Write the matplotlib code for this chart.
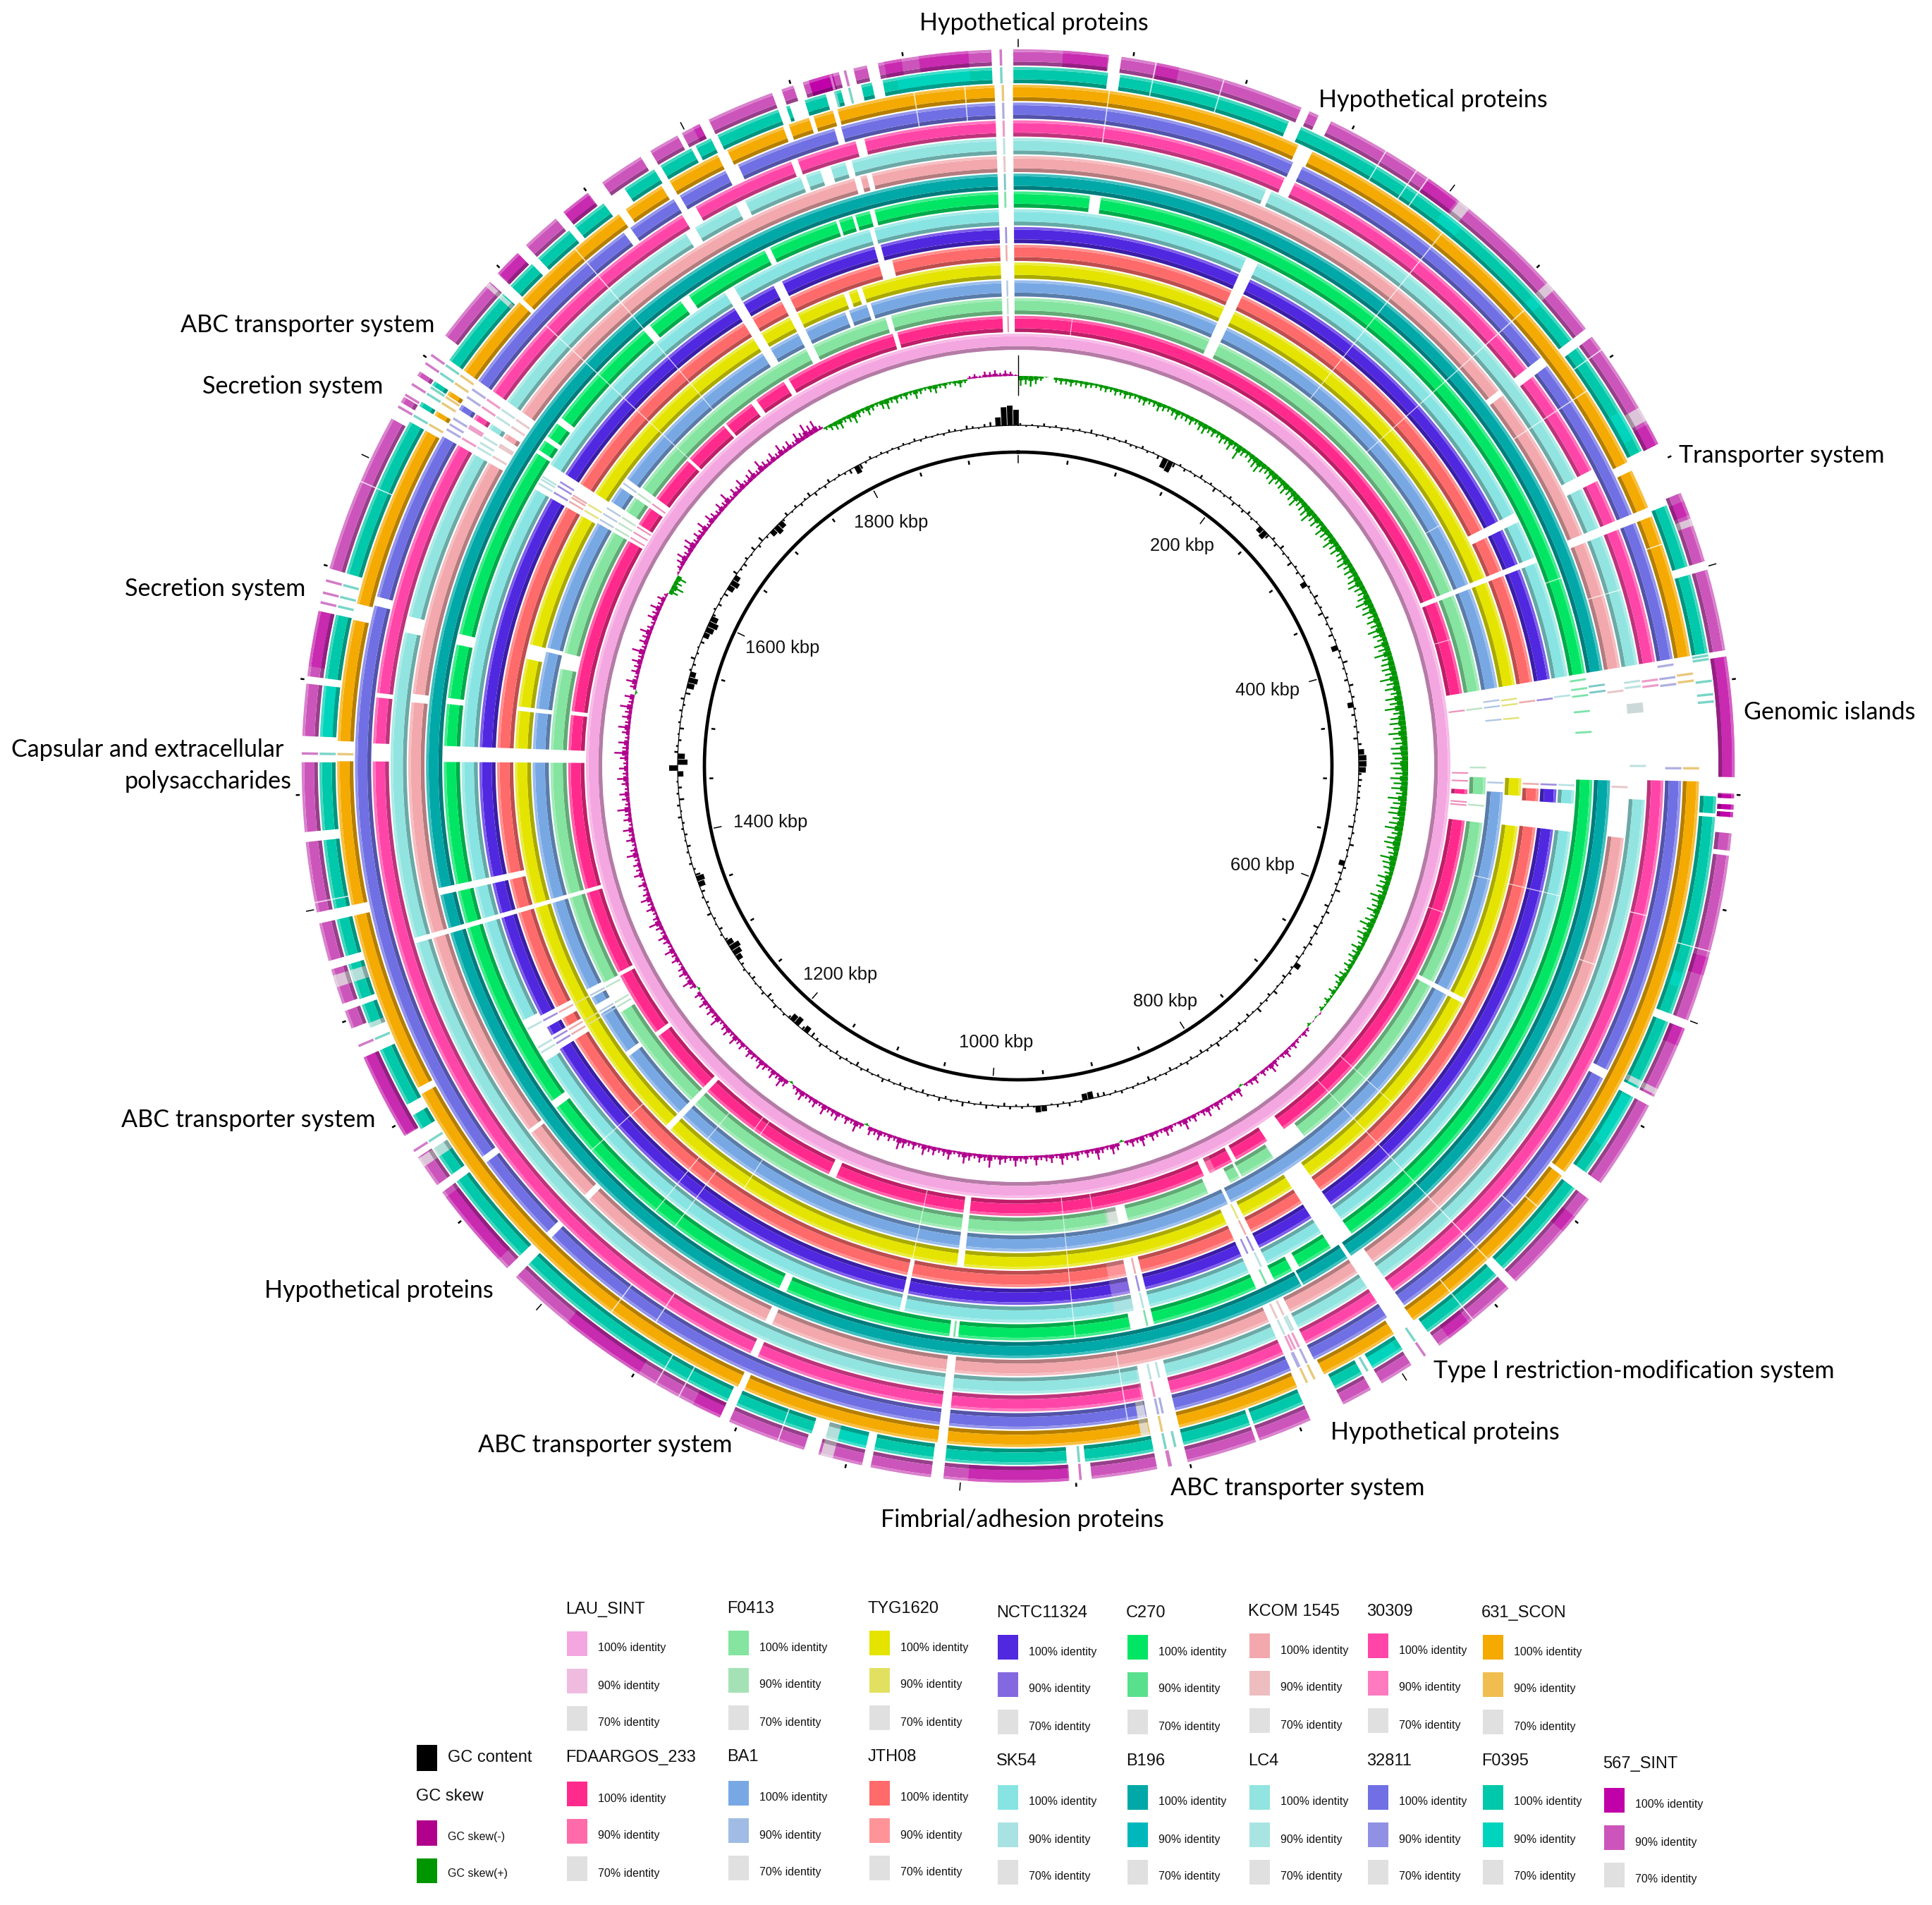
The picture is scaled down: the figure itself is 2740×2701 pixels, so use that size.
import numpy as np
import matplotlib
matplotlib.use("Agg")
import matplotlib.pyplot as plt
from matplotlib.patches import Rectangle

W, H = 2740, 2701
CX, CY = 1444, 1086
R_MAX = 1060
GENOME_KBP = 1950

ring_names = ['LAU_SINT', 'FDAARGOS_233', 'F0413', 'BA1', 'TYG1620', 'JTH08', 'NCTC11324', 'SK54', 'C270',
              'B196', 'KCOM 1545', 'LC4', '30309', '32811', '631_SCON', 'F0395', '567_SINT']
color_100 = ['#F4A6E0', '#FF2A8C', '#84E4A0', '#78A8E4', '#E4E400', '#FF6A6A', '#5028E0', '#88E4E2', '#00E664',
             '#00A8A8', '#F2A8AC', '#92E4E0', '#FF46A8', '#7070E4', '#F4AA00', '#00C8AA', '#C000A8']
color_90 = ['#EFBCE0', '#FF6AA8', '#A4E2B6', '#A0BCE4', '#E2E060', '#FF9498', '#8468E0', '#A8E2E2', '#58E08C',
            '#00B8BC', '#EDBDC0', '#A8E4E2', '#FF7ABE', '#9090E4', '#F0BE50', '#00D4BC', '#CC55BB']
grey_70 = '#E0E0E0'

# gaps in the blast rings, degrees clockwise from the top: start, end, first ring, last ring
shared_gaps = [(358.0, 359.55, 1, 16), (24.2, 25.5, 2, 7), (63, 64, 5, 7), (68, 68.6, 1, 7), (67.7, 68.5, 10, 14),
               (253.6, 254.1, 1, 11), (270.4, 272, 1, 8), (186.2, 187, 1, 4), (223.7, 224.4, 1, 4),
               (144.5, 147, 4, 8), (153.4, 155.5, 4, 7), (166.3, 168, 5, 7), (191.8, 192.3, 5, 7),
               (257.4, 258.1, 5, 9), (299.8, 302.8, 4, 7), (299.8, 302.5, 10, 13), (303, 305.5, 10, 13),
               (144.4, 146.2, 10, 13), (153.5, 155.7, 10, 13), (166.3, 168.8, 11, 14), (186, 186.8, 10, 14),
               (117.5, 118.1, 2, 4), (333, 334, 2, 6), (328.2, 329.3, 3, 7)]

gaps_lau = []
gaps_fda = [(80.7, 97.0), (143.8, 146.4), (151, 151.6), (154.8, 155.6), (203.9, 204.9), (233.1, 233.7),
            (242.2, 242.7), (276.5, 277), (300, 306.5), (312.7, 313.1), (319.1, 319.5), (323.6, 324.4),
            (328.6, 329.3), (343.8, 344.4)]
gaps_f0413 = [(80.7, 97.0), (142.3, 146.9), (151.4, 151.7), (153, 156), (166.4, 167.6), (238.2, 242.4), (282, 284),
              (300, 306.5), (343.5, 344.2)]
gaps_ba1 = [(80.7, 93.1), (154, 154.4), (233.3, 233.9), (239.3, 242.6), (276.3, 276.8), (283.6, 284.1),
            (300, 306.3), (339.1, 339.6), (341.8, 342.3)]
gaps_tyg = [(80.7, 96.9), (276.3, 276.8), (282.3, 284), (339.7, 340.3), (341.3, 341.9)]
gaps_jth = [(80.7, 96.8), (238.3, 242.4), (344.5, 346)]
gaps_nctc = [(80.7, 96.8), (238.3, 242.4), (344.5, 345.2)]
gaps_sk54 = [(80.7, 96.8), (238, 242.8), (344.5, 345)]
gaps_c270 = [(7.2, 8.3), (80.7, 91.4), (150.7, 151.5), (153.5, 155.5), (166.3, 168.7), (186, 186.9), (203.8, 204.6),
             (233.5, 234.3), (276.2, 276.8), (282.2, 283.3), (303, 303.4), (304.5, 305), (306.6, 307.3),
             (319.3, 320.1), (324, 325), (333.8, 334.4), (341.5, 341.8), (343.2, 343.5), (345, 345.5)]
gaps_b196 = [(80.7, 91.4), (145.8, 146.2), (151.2, 151.4)]
gaps_kcom = [(52, 52.6), (80.7, 96.8), (203.8, 204.5), (224.7, 225.3), (233, 233.4), (276, 276.8), (344.4, 345),
             (345.6, 346.1)]
gaps_lc4 = [(23.3, 23.8), (62.7, 63.8), (80.7, 93.1), (282.3, 283.8), (328, 329), (333.3, 334.2), (339.7, 340.2),
            (341.6, 342.6), (344, 344.6)]
gaps_30309 = [(24.4, 25.4), (52, 52.9), (62.7, 63.8), (80.7, 91.3), (203.8, 204.5), (270.4, 272), (276.1, 276.5),
              (328.6, 330), (339.4, 340), (345.4, 346.2)]
gaps_32811 = [(24.5, 25.4), (52, 52.9), (80.7, 91.3), (117.3, 118.1), (224.7, 225.3), (233.3, 233.9), (284, 284.8),
              (323.5, 324.2), (328.7, 329.3), (333.8, 335), (343.9, 344.5)]
gaps_631 = [(24.3, 25.6), (63.5, 64.3), (80.7, 91.3), (126.6, 127), (144.5, 146.5), (153.3, 155.8), (203.7, 204.3),
            (241.2, 241.8), (257.3, 258.2), (270.4, 272.1), (282.4, 283.8), (299.5, 301), (301.4, 303),
            (303.4, 305.5), (312.9, 313.3), (324.1, 324.8), (328.4, 329.2), (333.8, 334.7), (339.8, 340.3),
            (342.1, 342.5), (344.2, 344.6)]
gaps_f0395 = [(357.85, 359.6), (7.4, 8.4), (22.8, 23.9), (52.4, 53.2), (63.2, 68.1), (73.4, 74.1), (80.7, 94.2),
              (110.8, 111.5), (117.5, 118.3), (125.6, 127.2), (136, 136.8), (144.1, 146.6), (149.5, 150.5),
              (153, 155.9), (160.3, 160.6), (166.3, 168.8), (174.5, 176), (186, 187), (191.9, 192.6), (196, 197.2),
              (203.8, 204.6), (224.5, 225.5), (233.5, 234.2), (236.8, 238.7), (240, 241), (246, 248), (250, 250.5),
              (253.5, 254.2), (257.3, 258.2), (263.9, 264.7), (270.3, 272.4), (276.6, 277.2), (282.5, 286),
              (299.5, 301), (301.4, 303), (303.4, 305.5), (312.5, 313.4), (315.9, 316.6), (320, 320.6),
              (323.6, 325.7), (328.6, 329.2), (332.1, 332.5), (333.9, 334.5), (339.9, 340.6), (340.9, 342.2),
              (344, 344.8), (345.3, 347), (347.9, 348.8)]
gaps_567 = [(357.85, 359.6), (7.3, 8.3), (23.3, 24), (24.8, 25.9), (52.4, 53.2), (63.3, 67.6), (73.4, 74.1),
            (80.7, 81.2), (90.9, 92.2), (92.6, 93.1), (93.5, 93.7), (94.1, 95.4), (96.8, 97.2), (110.8, 111.5),
            (117.5, 118.3), (125.6, 127.2), (136, 136.8), (144, 146.7), (149.5, 150.5), (153, 155.9), (160.3, 160.6),
            (166.3, 168.8), (174.1, 175.9), (186, 187), (191.9, 192.6), (196.2, 197.4), (203.8, 204.6),
            (224.5, 225.5), (233.5, 234.2), (236.9, 238.9), (246, 248.5), (250, 250.6), (253.5, 254.2),
            (257.3, 258.2), (263.9, 264.7), (270.3, 272.4), (276.6, 277.2), (282.5, 286), (299, 300.5), (301, 303),
            (303.4, 306.9), (312.5, 313.4), (315.7, 316.6), (319.8, 320.6), (323.1, 324.5), (328.2, 329.1),
            (331.6, 332), (333.6, 334.4), (339.9, 340.7), (341.7, 342.5), (345.5, 346.7), (347.8, 348.7)]
ring_gaps = [gaps_lau, gaps_fda, gaps_f0413, gaps_ba1, gaps_tyg, gaps_jth, gaps_nctc, gaps_sk54, gaps_c270, gaps_b196,
             gaps_kcom, gaps_lc4, gaps_30309, gaps_32811, gaps_631, gaps_f0395, gaps_567]

# short hits left inside the gaps: start, end, ring
gap_blocks = [(93, 93.6, 1), (91.4, 93.5, 2), (91.4, 93.4, 4), (92.5, 93.9, 5), (92.5, 93.9, 6), (92.5, 93.9, 7),
              (92.5, 93.9, 15), (92.3, 92.6, 16), (93.1, 93.5, 16), (93.7, 94.1, 16), (302.5, 305, 1), (303, 305, 2),
              (303, 305, 3), (240, 241, 5), (240, 241, 6), (240.5, 241.5, 3), (238.7, 240, 15), (342.5, 343.2, 15),
              (343, 345, 16)]
# 90% identity stretches: start, end, first ring, last ring
pale_bands = [(95.5, 96.8, 1, 2), (95.5, 96.5, 4, 7), (95.5, 96.5, 10, 10), (95.4, 96.8, 16, 16), (118.5, 123, 15, 15),
              (107.3, 108.5, 15, 15), (147, 150, 15, 15), (192.6, 195, 15, 15), (272.4, 276.6, 15, 15),
              (37.5, 39.5, 15, 15), (47.6, 48.6, 15, 15), (59.5, 62, 15, 15), (350, 356, 15, 15),
              (168, 170, 5, 7), (167.6, 169.1, 2, 2), (154, 154.8, 1, 1), (168, 169, 11, 14)]
grey_bands = [(38, 39, 16, 16), (47.6, 48.4, 16, 16), (60, 61.2, 16, 16), (69.8, 70.4, 16, 16), (116.8, 117.3, 15, 16),
              (195, 196, 15, 16), (248, 248.4, 15, 16), (312, 312.4, 15, 16), (236, 236.8, 15, 16), (252, 253, 15, 16),
              (168.9, 169.6, 13, 14), (167.6, 168.8, 2, 2), (84.2, 85.1, 11, 11)]
# 100% stretches of the mostly paler outermost ring
dark_567 = [(3.6, 7.2), (11.2, 13), (35, 37.8), (61.5, 63.3), (68.3, 69.5), (81.2, 90.9), (105.5, 107), (111.5, 113),
            (129, 130.5), (141, 143), (176, 184), (204.6, 207), (212, 219), (226.5, 233), (239, 246), (278, 282.5),
            (313.5, 315.7), (320.6, 323), (333, 333.6), (349.2, 350.6), (352, 356)]
# hairline breaks: angle, first ring, last ring
thin_lines = [(38.5, 3, 14), (48, 3, 14), (56.6, 10, 14), (73.7, 1, 1), (73.7, 10, 11), (60.3, 3, 3), (70.9, 8, 8),
              (71, 14, 14), (103.5, 3, 3), (103.5, 5, 7), (103.4, 12, 12), (109, 1, 1), (109, 10, 10), (105, 15, 16),
              (132, 1, 4), (136.4, 1, 14), (130.3, 14, 14), (131.6, 13, 13), (140.6, 14, 16), (170.5, 1, 1),
              (174.3, 1, 8), (170.5, 10, 13), (192.1, 1, 4), (213, 3, 4), (219.8, 2, 3), (215, 1, 1), (216, 1, 1),
              (219.2, 5, 8), (216.7, 5, 8), (228, 5, 8), (216.7, 13, 14), (213.1, 12, 13), (210.4, 15, 16),
              (208.3, 15, 16), (11.1, 15, 16), (16.7, 15, 16), (30.9, 15, 16), (33.8, 15, 16), (34.9, 15, 16),
              (54.5, 15, 16), (6.9, 1, 1), (7.7, 12, 14), (319.4, 3, 14), (313, 2, 12), (355.5, 13, 14), (351.2, 13, 14),
              (259, 15, 16), (199.6, 15, 16), (293.4, 15, 16)]
# faint matches across the genomic island: angle, ring
slivers = [(82.9, 1), (82.9, 2), (82.9, 3), (82.2, 3), (84.5, 3), (82.9, 4), (82.3, 4), (84.5, 4), (82.8, 5), (82.8, 6),
           (82.7, 7), (82.9, 8), (84.5, 8), (86.6, 8), (81.3, 8), (82.2, 8), (82.7, 9), (82.1, 9), (82.9, 10),
           (82.7, 11), (82.2, 11), (82.8, 12), (82.3, 12), (82.9, 13), (82.3, 13), (81.2, 13), (82.8, 14), (82.2, 14),
           (83, 15), (84.1, 15), (84.7, 15), (81.2, 15), (80.9, 15), (90.2, 2), (90.2, 13), (90.2, 14), (90, 11),
           (94.6, 1), (95, 1), (94.9, 2), (91.9, 1), (90.9, 1), (92, 5), (92, 6), (92, 10), (92, 7), (92, 3),
           (358.7, 1), (358.7, 2), (358.7, 3), (358.7, 5), (358.7, 6), (358.7, 8), (358.7, 9), (358.7, 10), (358.7, 11),
           (358.7, 12), (358.7, 13), (358.7, 14), (358.6, 15), (358.6, 16), (301, 5), (301.8, 6), (301, 7), (301.8, 10),
           (301, 11), (301.8, 12), (301, 13), (302.8, 14), (302.8, 15), (301.2, 16), (186.4, 8), (150, 15), (155, 13),
           (154.6, 12), (154, 11), (154.4, 8), (154.8, 6), (167, 11), (167.4, 13), (167, 15), (167.7, 16)]
# groups of faint matches inside the wider strips: angle, first ring, last ring
strip_slivers = [(300.5, 1, 7), (301.3, 1, 7), (302.1, 1, 3), (305.6, 1, 3), (300.5, 10, 13), (301.6, 10, 13),
                 (303.8, 10, 13), (304.6, 10, 13), (300.1, 14, 16), (302.2, 14, 16), (304.2, 14, 16), (305, 14, 16),
                 (239, 2, 7), (239.6, 2, 7), (241.8, 2, 7), (284, 15, 16), (285, 15, 16), (283.2, 15, 16),
                 (154.2, 10, 14), (154.9, 10, 14), (154.1, 4, 7), (167, 5, 8), (167.8, 11, 16), (247, 15, 16),
                 (237.5, 15, 16), (145.4, 15, 16), (175, 15, 16), (271, 14, 16), (344.8, 15, 16), (346, 15, 16)]

# GC skew, one value per 0.75 degree: positive outward (-), negative inward (+)
gc_skew = [
    -14, -12, -15, -11, -6, -1, 0, -7, -9, -8, -10, -7, -8, -9, -7, -6, -8, -9, -7, -10,
    -8, -11, -9, -7, -10, -12, -8, -9, -13, -10, -8, -11, -14, -9, -10, -12, -8, -13, -15, -10,
    -12, -9, -14, -11, -16, -10, -22, -12, -10, -13, -16, -19, -14, -11, -15, -18, -12, -14, -17, -13,
    -16, -20, -13, -15, -18, -22, -14, -17, -12, -19, -16, -14, -21, -15, -18, -13, -16, -20, -14, -17,
    -15, -19, -22, -16, -14, -18, -24, -17, -20, -15, -19, -16, -23, -18, -14, -21, -17, -25, -16, -19,
    -20, -17, -26, -18, -22, -15, -24, -19, -27, -16, -21, -23, -18, -26, -20, -17, -24, -22, -19, -25,
    -21, -18, -25, -20, -23, -16, -27, -19, -22, -24, -17, -21, -26, -15, -20, -23, -18, -14, -24, -19,
    -16, -12, -20, -15, -18, -13, -22, -17, -14, -19, -11, -16, -21, -13, -18, -15, -10, -17, -12, -14,
    -10, -13, -8, -12, -15, -9, -6, -11, -4, -8, -3, -6, 2, -2, 1, -4, 5, 8, 3, 6,
    9, 5, 12, 7, 4, 10, 14, 6, 9, 3, 11, 8, 5, -3, 13, 7, 10, 4, 8, 12,
    6, 14, 9, 5, 11, 7, 16, 8, 4, 10, 13, 6, 9, 12, 5, 15, 8, 11, 7, -3,
    10, 14, 6, 9, 17, 7, 11, 5, 13, 8, 10, 16, 6, 12, 9, 7, 14, 5, 11, 8,
    15, 7, 10, 13, 6, 18, 9, 12, 7, 11, 16, 8, 5, 14, 10, 7, 12, 9, 15, 6,
    11, 8, 13, 17, 7, 10, 6, 14, 9, 12, -3, 8, 16, 7, 11, 5, 13, 10, 8, 15,
    6, 12, 9, 7, 14, 10, 5, -3, 11, 16, 8, 13, 6, 10, 14, 7, 9, 12, 5, 11,
    8, 15, 7, 13, 10, 6, 17, 9, 12, 8, 14, 6, 11, -3, 9, 16, 7, 13, 10, 5,
    12, 8, 15, 6, 10, 14, 7, 11, 18, 9, 6, 13, 8, 16, 10, 7, 12, 5, 14, 9,
    11, 7, 17, 10, 6, 13, 8, 15, 5, 12, 9, 19, 7, 11, 14, 6, 10, 16, 8, 13,
    7, 12, 20, 9, 15, 6, 11, 17, 8, 13, 10, 18, 7, 14, -3, 9, 16, 6, 12, 10,
    15, 8, 19, 7, 13, 11, 17, 9, 6, 14, 10, 16, 8, 12, 5, -13, -18, -12, -15, 3,
    7, 12, 16, 9, 14, 18, 8, 13, 10, 17, 6, 15, 11, 8, 14, 9, 18, 7, 13, 10,
    16, 8, 12, 15, 7, 18, 11, 9, 14, 8, 17, 10, 13, 7, 16, 12, 21, 15, 18, 6,
    -5, -9, -12, -14, -8, -11, -16, -10, -7, -13, -9, -6, -12, -15, -8, -11, -7, -10, -6, -13,
    -8, -5, -9, -12, -6, -8, -4, -7, -10, -5, 4, 6, 3, 8, 7, 9, 5, 8, 6, 2,
]

# GC content, one value per degree, around the baseline
gc_content = [
    3, -2, 2, -3, 4, -2, 3, -4, 2, -3, 3, -2, 5, -3, 2, -4, 3, -2, 4, -3,
    -3, 4, -3, 2, -5, -14, -16, -6, 3, -4, 2, -3, 5, -2, 3, -6, 2, -3, 4, -5,
    3, -4, 5, -3, 2, -8, -11, -6, 4, -5, 6, -3, 2, -7, 3, -4, 5, -8, 3, -2,
    6, -4, 3, -7, 5, -3, 4, -6, 2, -9, 3, -4, 7, -3, 2, -5, 6, -3, 4, -8,
    3, -5, 2, -4, 3, -6, 5, 8, 11, 11, 10, 4, 5, 4, 3, 4, 2, 3, -3, 2,
    -7, 3, -4, 6, -3, 2, -8, 4, -5, 3, -4, 7, -3, 2, -6, 5, -3, 3, -7, 4,
    -3, 5, -4, 2, -6, 8, -3, 4, -5, 3, -2, 6, -4, 3, -3, 7, -2, -5, 3, -4,
    5, -3, 2, -4, 6, -3, 3, -5, 2, -4, 4, -3, 2, -5, 3, -2, 4, -6, 2, -3,
    3, -2, 4, -3, 2, -5, -6, -10, -9, 3, -2, 5, -3, 4, -2, 8, 9, 2, -4, 3,
    -3, 4, -5, 3, -2, 5, -4, 2, -3, 6, -2, 3, -4, 5, -2, 3, -5, 2, -3, 4,
    -4, 2, -3, 5, -3, 2, -4, 3, -6, 2, -3, 4, -5, 2, -3, 5, -4, -7, -9, -5,
    -12, -10, -4, 3, -2, 5, -3, -7, 4, -3, 2, -5, -3, 3, -4, -8, -12, -15, -9, -4,
    3, -5, 2, -3, 6, -2, -4, 3, -5, -9, -11, -7, -3, 4, -2, 3, -5, 2, -4, 3,
    -3, 5, -2, 4, -7, 3, -5, 2, -8, 12, -14, -10, 5, 3, -4, 2, -6, 3, -2, 4,
    -3, 5, -7, -10, -13, -8, 3, -4, 6, -3, 2, -5, -8, -11, -14, -10, -4, 3, -5, 2,
    -6, -9, -12, -8, 6, -3, -5, 4, -2, 6, -4, 7, -3, -8, -12, -9, -3, 5, -2, 4,
    -4, 3, 6, -5, 2, -4, 5, -2, 3, -3, -6, -11, -7, -3, 4, -2, 3, -3, 2, -4,
    3, -2, 4, -3, 3, -2, 2, -3, 4, 3, -2, 5, 3, -2, 4, 6, 12, 26, 28, 22,
]

kbp_labels = ['200 kbp', '400 kbp', '600 kbp', '800 kbp', '1000 kbp', '1200 kbp', '1400 kbp', '1600 kbp', '1800 kbp']
kbp_x = [1677, 1798, 1791, 1653, 1413, 1192, 1093, 1110, 1264]
kbp_y = [774, 979, 1227, 1420, 1478, 1382, 1166, 919, 741]

note_labels = ['Hypothetical proteins', 'Hypothetical proteins', 'Transporter system', 'Genomic islands',
               'Type I restriction-modification system', 'Hypothetical proteins', 'ABC transporter system',
               'Fimbrial/adhesion proteins', 'ABC transporter system', 'Hypothetical proteins',
               'ABC transporter system', 'Capsular and extracellular', 'polysaccharides', 'Secretion system',
               'Secretion system', 'ABC transporter system']
note_x = [1466, 2032, 2527, 2595, 2317, 2049, 1840, 1450, 858, 537, 352, 209, 295, 305, 415, 436]
note_y = [33, 142, 646, 1010, 1944, 2031, 2110, 2155, 2049, 1830, 1588, 1063, 1108, 835, 548, 461]

legend_order = ['LAU_SINT', 'F0413', 'TYG1620', 'NCTC11324', 'C270', 'KCOM 1545', '30309', '631_SCON',
                'FDAARGOS_233', 'BA1', 'JTH08', 'SK54', 'B196', 'LC4', '32811', 'F0395', '567_SINT']
legend_x = [802, 1031, 1231, 1413, 1597, 1770, 1938, 2101, 802, 1031, 1231, 1413, 1597, 1770, 1938, 2101, 2273]
legend_top = [2313, 2312, 2312, 2318, 2318, 2316, 2316, 2318, 2526, 2525, 2525, 2531, 2531, 2531, 2531, 2531, 2535]
legend_title_y = [2282, 2281, 2281, 2287, 2287, 2285, 2285, 2287, 2492, 2491, 2491, 2497, 2497, 2497, 2497, 2497, 2501]

RING_R0 = 590
RING_PITCH = 25.2
RING_W = 23


def blend(hex_color, factor, toward=(0, 0, 0)):
    rgb = np.array(matplotlib.colors.to_rgb(hex_color))
    return tuple(rgb * factor + np.array(toward) * (1 - factor))


def arc(ax, start, end, r0, height, color, alpha=None):
    ax.bar(np.radians(start), height, width=np.radians(end - start), bottom=r0, align='edge',
           color=color, linewidth=0, alpha=alpha)


def ring_arc(ax, start, end, ring, color):
    r0 = RING_R0 + RING_PITCH * ring
    arc(ax, start, end, r0, RING_W * 0.24, blend(color, 0.74))
    arc(ax, start, end, r0 + RING_W * 0.24, RING_W * 0.6, color)
    arc(ax, start, end, r0 + RING_W * 0.84, RING_W * 0.16, blend(color, 0.75, (1, 1, 1)))


def faint_match(ax, angle, ring):
    ax.bar(np.radians(angle), RING_W, width=np.radians(0.2), bottom=RING_R0 + RING_PITCH * ring, align='center',
           color=blend(grey_70, 0.55, matplotlib.colors.to_rgb(color_100[ring])), linewidth=0)


fig = plt.figure(figsize=(W / 100, H / 100), dpi=100)
ax = fig.add_axes([(CX - R_MAX) / W, (H - CY - R_MAX) / H, 2 * R_MAX / W, 2 * R_MAX / H], projection='polar')
ax.set_theta_zero_location('N')
ax.set_theta_direction(-1)
ax.set_ylim(0, R_MAX)
ax.axis('off')

for i in range(len(ring_names)):
    base = color_90[i] if i == 16 else color_100[i]
    ring_arc(ax, 0, 360, i, base)
for start, end in dark_567:
    ring_arc(ax, start, end, 16, '#C82AB0')

for start, end, first, last in pale_bands:
    for i in range(first, last + 1):
        ring_arc(ax, start, end, i, color_90[i])
for start, end, first, last in grey_bands:
    for i in range(first, last + 1):
        ring_arc(ax, start, end, i, blend(grey_70, 0.8, matplotlib.colors.to_rgb(color_90[i])))

for i, gaps in enumerate(ring_gaps):
    for start, end in gaps:
        arc(ax, start, end, RING_R0 + RING_PITCH * i - 0.8, RING_W + 1.6, 'white')
for start, end, first, last in shared_gaps:
    for i in range(first, last + 1):
        arc(ax, start, end, RING_R0 + RING_PITCH * i - 0.8, RING_W + 1.6, 'white')
for angle, first, last in thin_lines:
    for i in range(first, last + 1):
        arc(ax, angle - 0.05, angle + 0.05, RING_R0 + RING_PITCH * i - 0.8, RING_W + 1.6, 'white', alpha=0.75)
for start, end, i in gap_blocks:
    ring_arc(ax, start, end, i, color_100[i])
arc(ax, 84.2, 85.1, RING_R0 + RING_PITCH * 11, RING_W, '#CDD8D8')
for angle, i in slivers:
    faint_match(ax, angle, i)
for angle, first, last in strip_slivers:
    for i in range(first, last + 1):
        faint_match(ax, angle, i)

# GC skew track: a low body with the spike on top of it
skew_theta = np.radians(np.arange(len(gc_skew)) * 0.75)
skew = np.array(gc_skew)
skew_colors = np.where(skew > 0, '#B0008C', '#009600').tolist()
ax.bar(skew_theta, skew * 0.45, width=np.radians(0.75), bottom=553, align='edge', linewidth=0, color=skew_colors)
ax.bar(skew_theta + np.radians(0.25), skew, width=np.radians(0.25), bottom=553, align='edge', linewidth=0,
       color=skew_colors)

# GC content track: runs of high values read as solid blobs
gc_theta = np.radians(np.arange(len(gc_content)) + 0.2)
gc_values = np.array(gc_content)
gc_width = np.radians(np.where(np.abs(gc_values) >= 8, 0.9, 0.3))
ax.plot(np.linspace(0, 2 * np.pi, 721), np.full(721, 483), color='black', lw=0.9)
ax.bar(gc_theta, gc_values, width=gc_width, bottom=483, align='edge', color='black', linewidth=0)

# backbone, ticks
ax.plot(np.linspace(0, 2 * np.pi, 721), np.full(721, 445), color='black', lw=3.4)
for kbp in range(0, GENOME_KBP, 50):
    t = np.radians(kbp / GENOME_KBP * 360)
    major = kbp % 200 == 0
    ax.plot([t, t], [430 if major else 434, 440 if major else 437], color='black', lw=1.1 if major else 1.8)
    ax.plot([t, t], [1020 if major else 1021, 1030 if major else 1024], color='black', lw=1.1 if major else 1.8)
ax.plot([0, 0], [526, 582], color='black', lw=1.0)

# labels and legend, in figure pixels
ax2 = fig.add_axes([0, 0, 1, 1])
ax2.set_xlim(0, W)
ax2.set_ylim(H, 0)
ax2.axis('off')

for label, x, y in zip(kbp_labels, kbp_x, kbp_y):
    ax2.text(x, y, label, family='Liberation Sans', fontsize=18.4, ha='center', va='center', color='#111111')
for label, x, y in zip(note_labels, note_x, note_y):
    ax2.text(x, y, label, family='Lato', fontsize=24.6, ha='center', va='center', color='black')

for name, x, top, title_y in zip(legend_order, legend_x, legend_top, legend_title_y):
    i = ring_names.index(name)
    ax2.text(x, title_y, name, family='Liberation Sans', fontsize=17, ha='left', va='center', color='#111111')
    rows = [(color_100[i], '100% identity'), (color_90[i], '90% identity'), (grey_70, '70% identity')]
    for k, (c, txt) in enumerate(rows):
        ax2.add_patch(Rectangle((x + 2, top + 53 * k), 29, 35, facecolor=c, linewidth=0))
        ax2.text(x + 46, top + 53 * k + 24, txt, family='Liberation Sans', fontsize=11.5, ha='left', va='center',
                 color='#111111')

ax2.add_patch(Rectangle((591, 2474), 29, 37, facecolor='black', linewidth=0))
ax2.text(635, 2492, 'GC content', family='Liberation Sans', fontsize=17, ha='left', va='center', color='#111111')
ax2.text(590, 2547, 'GC skew', family='Liberation Sans', fontsize=17, ha='left', va='center', color='#111111')
ax2.add_patch(Rectangle((591, 2581), 29, 36, facecolor='#B0008C', linewidth=0))
ax2.text(635, 2604, 'GC skew(-)', family='Liberation Sans', fontsize=11.5, ha='left', va='center', color='#111111')
ax2.add_patch(Rectangle((591, 2635), 29, 35, facecolor='#009600', linewidth=0))
ax2.text(635, 2657, 'GC skew(+)', family='Liberation Sans', fontsize=11.5, ha='left', va='center', color='#111111')

fig.savefig('out.png', dpi=100, facecolor='white')
